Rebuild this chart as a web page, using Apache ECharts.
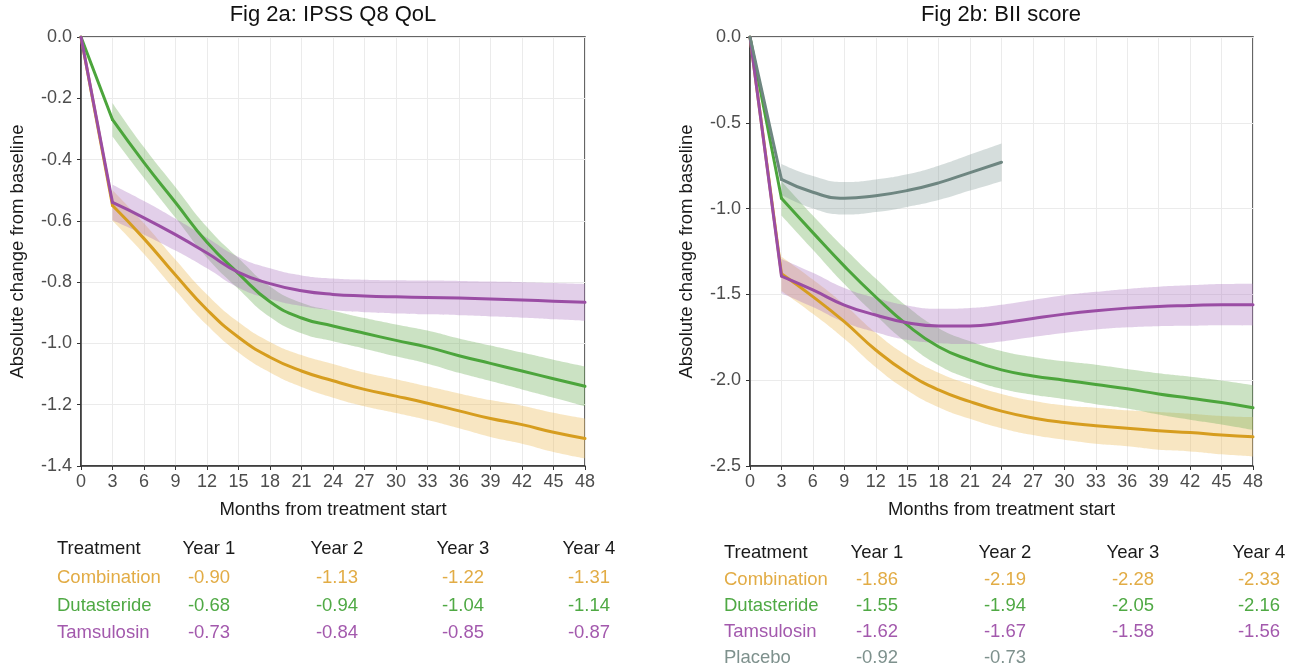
<!DOCTYPE html>
<html><head><meta charset="utf-8">
<script src="https://cdn.jsdelivr.net/npm/echarts@6/dist/echarts.min.js"></script>
<style>html,body{margin:0;padding:0;background:#fff}#c{width:1293px;height:667px}</style>
</head><body><div id="c"></div>
<script>
// ---------- data ----------
const monthTicks = ['0','3','6','9','12','15','18','21','24','27','30','33','36','39','42','45','48'];
const baselineValue = 0; // change at month 0
// values at months 3..48 (placebo 3..24)
// Fig 2a: IPSS Q8 QoL (mean, half-width of band)
const qolComb   = [-0.55,-0.658,-0.777,-0.89,-0.98,-1.045,-1.09,-1.122,-1.15,-1.172,-1.195,-1.22,-1.245,-1.265,-1.29,-1.31];
const qolCombCI = [0.05,0.05,0.05,0.05,0.05,0.05,0.052,0.055,0.055,0.055,0.055,0.057,0.06,0.062,0.064,0.065];
const qolDut    = [-0.27,-0.41,-0.54,-0.67,-0.772,-0.864,-0.917,-0.943,-0.967,-0.99,-1.012,-1.04,-1.065,-1.09,-1.115,-1.14];
const qolDutCI  = [0.055,0.05,0.05,0.05,0.05,0.05,0.05,0.05,0.05,0.052,0.054,0.056,0.058,0.06,0.062,0.065];
const qolTam    = [-0.54,-0.59,-0.645,-0.705,-0.768,-0.805,-0.828,-0.84,-0.845,-0.848,-0.85,-0.852,-0.855,-0.858,-0.862,-0.866];
const qolTamCI  = [0.058,0.055,0.052,0.05,0.05,0.05,0.05,0.052,0.053,0.054,0.055,0.056,0.057,0.058,0.059,0.06];

// Fig 2b: BII score
const biiComb   = [-1.38,-1.513,-1.659,-1.824,-1.958,-2.057,-2.125,-2.18,-2.22,-2.247,-2.265,-2.28,-2.295,-2.305,-2.32,-2.33];
const biiCombCI = [0.1,0.1,0.1,0.1,0.1,0.1,0.1,0.1,0.1,0.1,0.105,0.105,0.11,0.11,0.112,0.115];
const biiDut    = [-0.94,-1.14,-1.335,-1.515,-1.678,-1.805,-1.883,-1.94,-1.975,-2.0,-2.025,-2.05,-2.08,-2.105,-2.13,-2.16];
const biiDutCI  = [0.1,0.1,0.105,0.107,0.107,0.108,0.11,0.11,0.11,0.11,0.115,0.115,0.12,0.125,0.128,0.13];
const biiTam    = [-1.393,-1.474,-1.562,-1.62,-1.665,-1.684,-1.684,-1.667,-1.64,-1.615,-1.595,-1.58,-1.57,-1.565,-1.56,-1.56];
const biiTamCI  = [0.1,0.1,0.1,0.1,0.1,0.1,0.105,0.107,0.108,0.11,0.11,0.112,0.115,0.118,0.12,0.122];
const biiPla    = [-0.83,-0.905,-0.94,-0.925,-0.895,-0.85,-0.79,-0.73];
const biiPlaCI  = [0.09,0.095,0.095,0.095,0.095,0.1,0.105,0.11];

// tables
const tableHeader = ['Treatment','Year 1','Year 2','Year 3','Year 4'];
const treatments  = ['Combination','Dutasteride','Tamsulosin','Placebo'];
const qolTabComb = ['-0.90','-1.13','-1.22','-1.31'];
const qolTabDut  = ['-0.68','-0.94','-1.04','-1.14'];
const qolTabTam  = ['-0.73','-0.84','-0.85','-0.87'];
const biiTabComb = ['-1.86','-2.19','-2.28','-2.33'];
const biiTabDut  = ['-1.55','-1.94','-2.05','-2.16'];
const biiTabTam  = ['-1.62','-1.67','-1.58','-1.56'];
const biiTabPla  = ['-0.92','-0.73'];

const titles = ['Fig 2a: IPSS Q8 QoL','Fig 2b: BII score'];
const xName = 'Months from treatment start';
const yName = 'Absolute change from baseline';

// ---------- styles ----------
const FONT = '"Liberation Sans", Arial, sans-serif';
const COL = {
  comb: {line:'#D69D1F', band:'rgba(236,190,95,0.38)', text:'#E2AC45'},
  dut:  {line:'#4CA53C', band:'rgba(110,175,90,0.36)', text:'#4FA944'},
  tam:  {line:'#9A4DA4', band:'rgba(170,115,190,0.34)', text:'#A359AD'},
  pla:  {line:'#6E8681', band:'rgba(125,150,145,0.32)', text:'#7E918D'}
};

const bands = [], lines = [];
function addGroup(gi, mean, half, col, key) {
  const pad = ['-'];
  const lo = pad.concat(mean.map((v,i)=>+(v - half[i]).toFixed(4)));
  const span = pad.concat(half.map(h=>+(2*h).toFixed(4)));
  const common = {type:'line', xAxisIndex:gi, yAxisIndex:gi, symbol:'none', showSymbol:false, silent:true, smooth:0.5, animation:false};
  bands.push(Object.assign({}, common, {data:lo, stack:key, stackStrategy:'all', lineStyle:{opacity:0, width:0}, z:1}));
  bands.push(Object.assign({}, common, {data:span, stack:key, stackStrategy:'all', lineStyle:{opacity:0, width:0}, areaStyle:{color:col.band, opacity:1}, z:1}));
  lines.push(Object.assign({}, common, {smooth:false, data:[baselineValue, mean[0]], lineStyle:{color:col.line, width:3, cap:'round', join:'round'}, z:3}));
  lines.push(Object.assign({}, common, {data:pad.concat(mean), lineStyle:{color:col.line, width:3, cap:'round', join:'round'}, z:3}));
}
addGroup(0, qolComb, qolCombCI, COL.comb, 'a1');
addGroup(0, qolDut, qolDutCI, COL.dut, 'a2');
addGroup(0, qolTam, qolTamCI, COL.tam, 'a3');
addGroup(1, biiComb, biiCombCI, COL.comb, 'b1');
addGroup(1, biiDut, biiDutCI, COL.dut, 'b2');
addGroup(1, biiTam, biiTamCI, COL.tam, 'b3');
addGroup(1, biiPla, biiPlaCI, COL.pla, 'b4');

function xAx(gi) {
  return {gridIndex:gi, type:'category', data:monthTicks, boundaryGap:false,
    name:xName, nameLocation:'middle', nameGap:34,
    nameTextStyle:{fontFamily:FONT, fontSize:18.5, color:'#1a1a1a'},
    axisLine:{show:true, onZero:false, lineStyle:{color:'#333', width:1.5}},
    axisTick:{show:true, length:4, interval:0, alignWithLabel:true, lineStyle:{color:'#333', width:1}},
    axisLabel:{fontFamily:FONT, fontSize:18, color:'#4d4d4d', margin:7, interval:0, hideOverlap:false},
    splitLine:{show:true, interval:0, lineStyle:{color:'#ebebeb', width:1}}};
}
function yAx(gi, min, interval) {
  return {gridIndex:gi, type:'value', min:min, max:0, interval:interval,
    name:yName, nameLocation:'middle', nameGap:54,
    nameTextStyle:{fontFamily:FONT, fontSize:18.5, color:'#1a1a1a'},
    axisLine:{show:true, onZero:false, lineStyle:{color:'#333', width:1.5}},
    axisTick:{show:true, length:4, lineStyle:{color:'#333', width:1}},
    axisLabel:{fontFamily:FONT, fontSize:18, color:'#4d4d4d', margin:9, formatter:v=>v.toFixed(1), hideOverlap:false, showMinLabel:true, showMaxLabel:true},
    splitLine:{show:true, lineStyle:{color:'#ebebeb', width:1}}};
}

// ---------- graphic texts ----------
const graphic = [];
function txt(x, y, s, fill, size, align) {
  graphic.push({type:'text', x:x, y:y, silent:true, style:{text:s, fill:fill, font:size+'px '+FONT, textAlign:align||'left', textVerticalAlign:'middle', verticalAlign:'middle'}});
}
txt(333, 15, titles[0], '#111', 22, 'center');
txt(1001, 15, titles[1], '#111', 22, 'center');

function table(x0, colCenters, rowsY, rows) {
  txt(x0, rowsY[0], tableHeader[0], '#1a1a1a', 18.5);
  for (let j = 0; j < 4; j++) txt(colCenters[j], rowsY[0], tableHeader[j+1], '#1a1a1a', 18.5, 'center');
  rows.forEach((r, i) => {
    txt(x0, rowsY[i+1], r.name, r.color, 18.5);
    r.vals.forEach((v, j) => txt(colCenters[j], rowsY[i+1], v, r.color, 18.5, 'center'));
  });
}
table(57, [209, 337, 463, 589], [549, 578, 606, 633], [
  {name:treatments[0], color:COL.comb.text, vals:qolTabComb},
  {name:treatments[1], color:COL.dut.text, vals:qolTabDut},
  {name:treatments[2], color:COL.tam.text, vals:qolTabTam}
]);
table(724, [877, 1005, 1133, 1259], [553, 580, 606, 632, 658], [
  {name:treatments[0], color:COL.comb.text, vals:biiTabComb},
  {name:treatments[1], color:COL.dut.text, vals:biiTabDut},
  {name:treatments[2], color:COL.tam.text, vals:biiTabTam},
  {name:treatments[3], color:COL.pla.text, vals:biiTabPla}
]);

const chart = echarts.init(document.getElementById('c'));
chart.setOption({
  backgroundColor:'#fff',
  animation:false,
  grid:[
    {left:81, right:708, top:37, bottom:201, show:true, borderColor:'#333', borderWidth:1.5, containLabel:false, outerBoundsMode:'none'},
    {left:750, right:40, top:37, bottom:201, show:true, borderColor:'#333', borderWidth:1.5, containLabel:false, outerBoundsMode:'none'}
  ],
  xAxis:[xAx(0), xAx(1)],
  yAxis:[yAx(0,-1.4,0.2), yAx(1,-2.5,0.5)],
  series: bands.concat(lines),
  graphic: graphic
});
</script></body></html>
